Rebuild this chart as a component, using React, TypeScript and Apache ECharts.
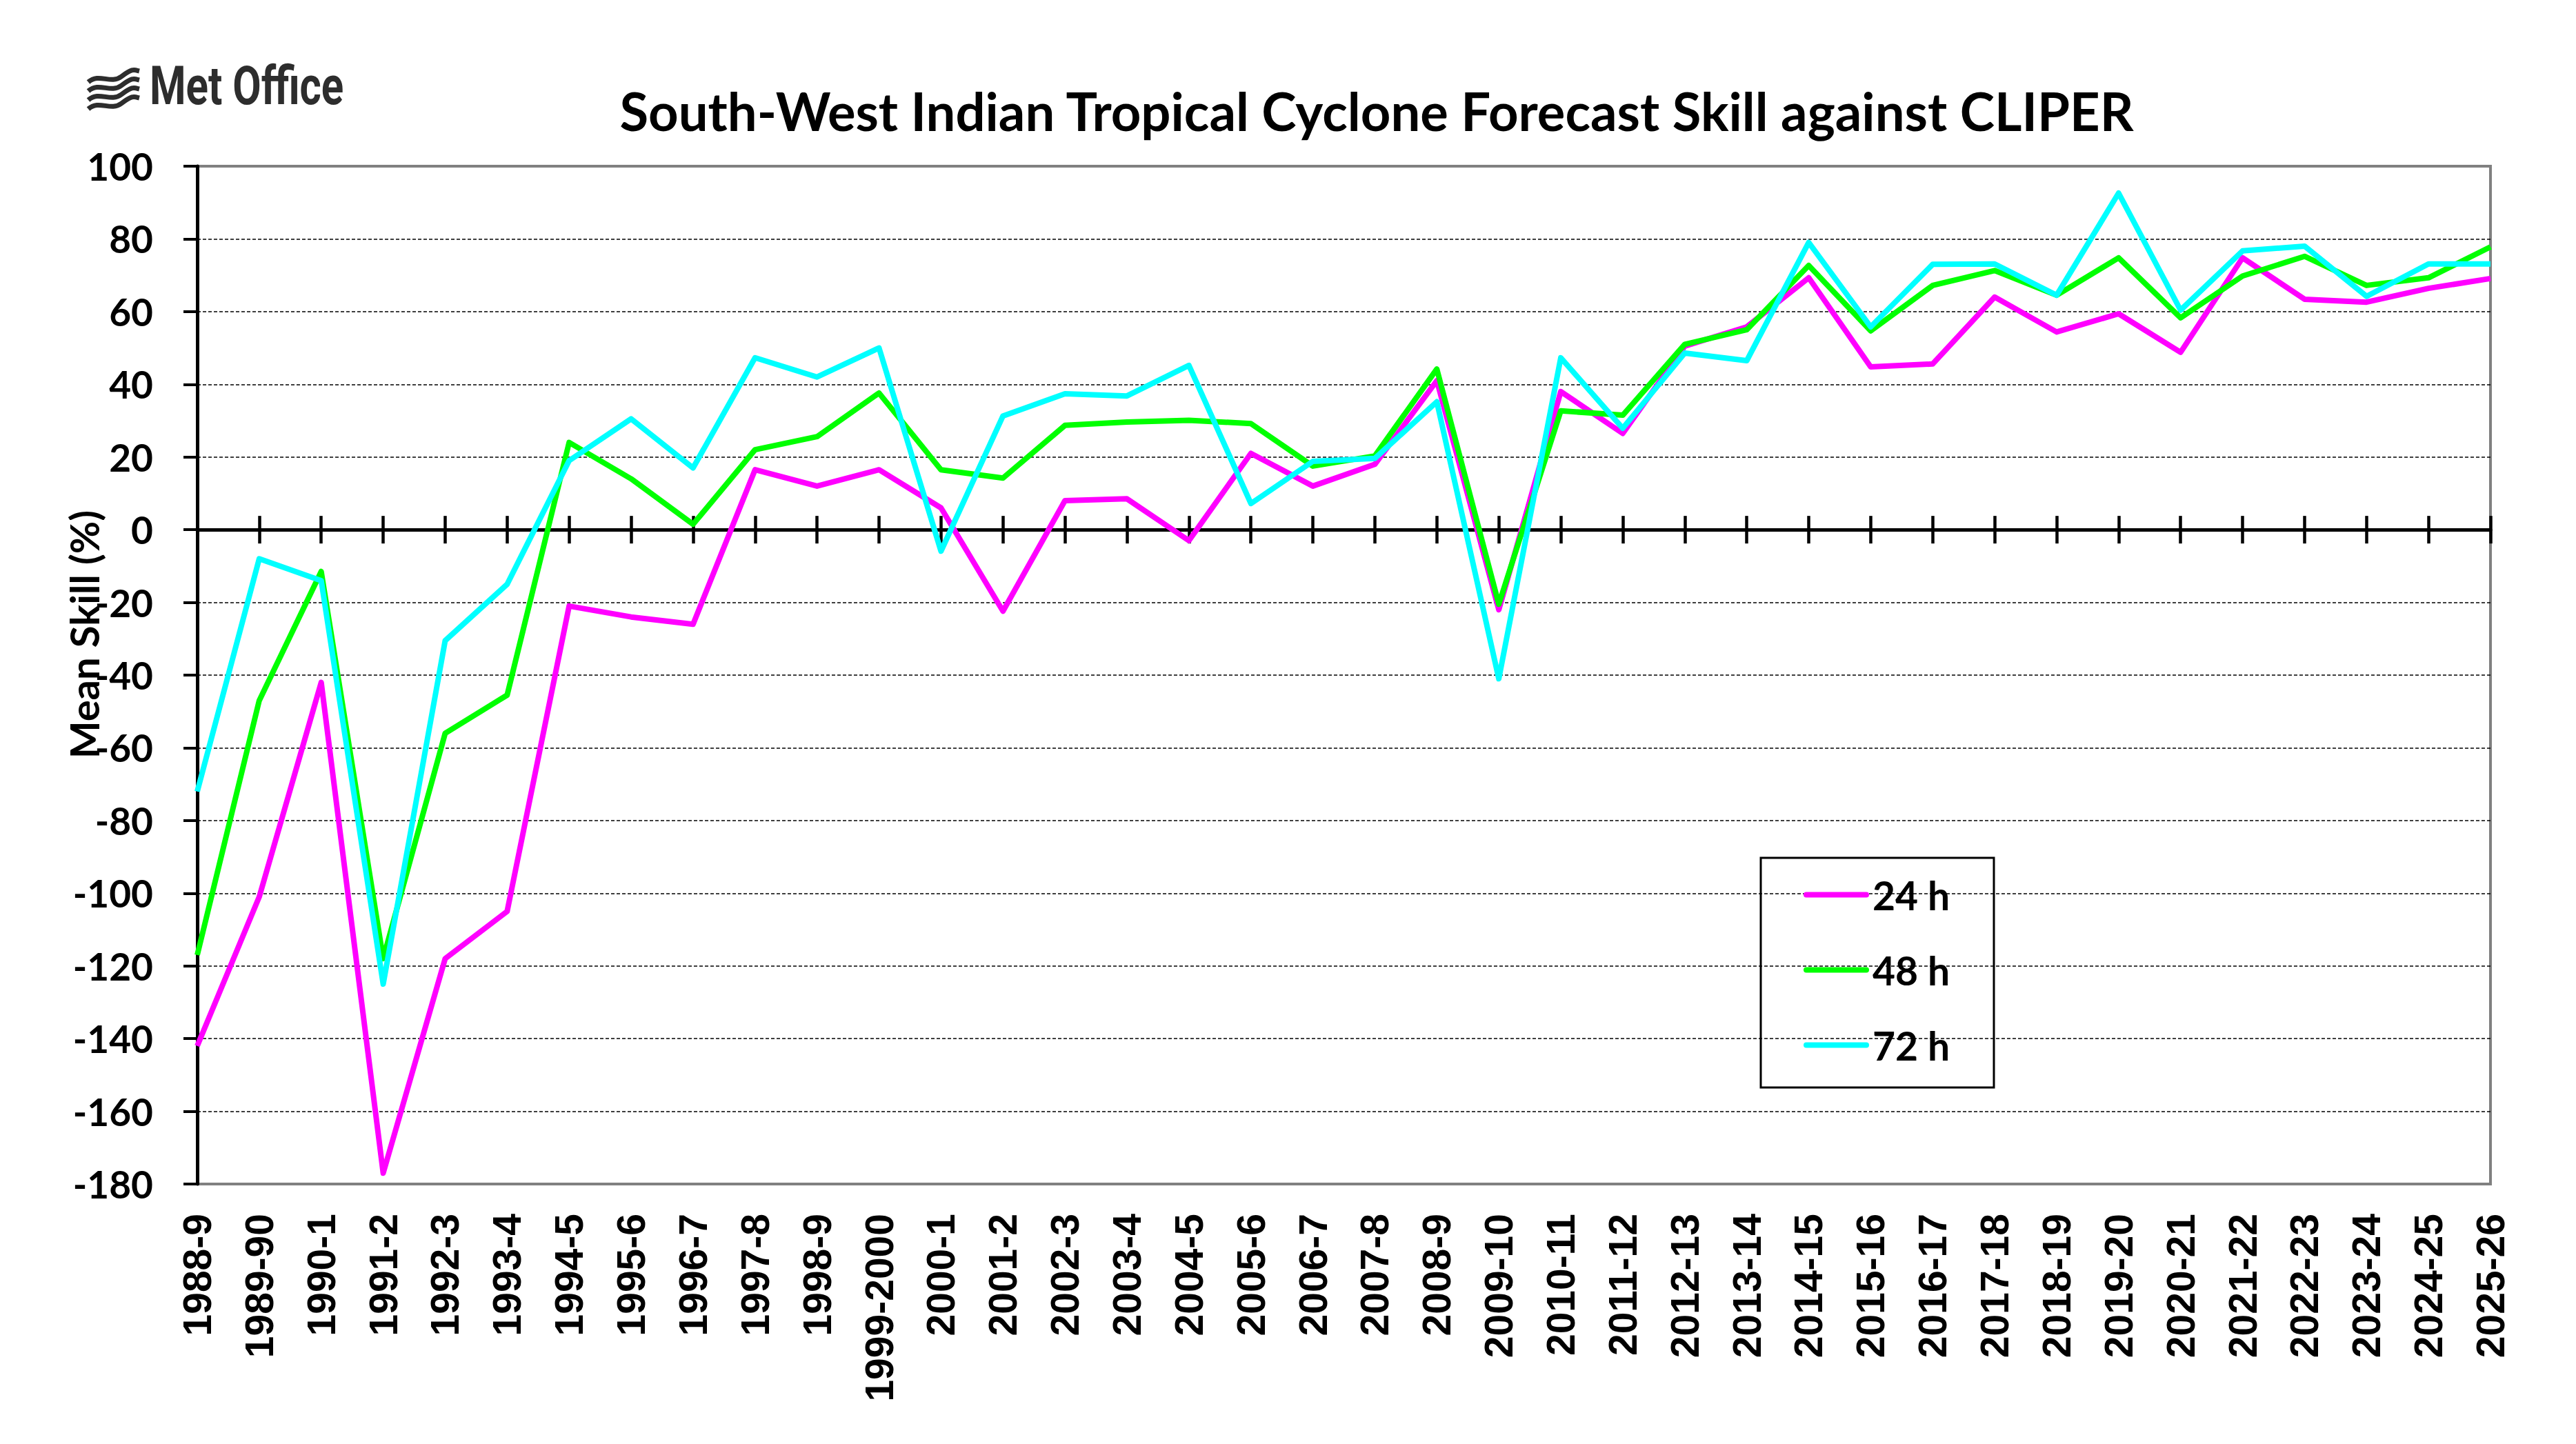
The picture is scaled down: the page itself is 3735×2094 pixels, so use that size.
import React, { useEffect, useRef } from "react";
import * as echarts from "echarts";

// Cyclone seasons along the x axis
const seasons = [
  "1988-9", "1989-90", "1990-1", "1991-2", "1992-3", "1993-4", "1994-5", "1995-6",
  "1996-7", "1997-8", "1998-9", "1999-2000", "2000-1", "2001-2", "2002-3", "2003-4",
  "2004-5", "2005-6", "2006-7", "2007-8", "2008-9", "2009-10", "2010-11", "2011-12",
  "2012-13", "2013-14", "2014-15", "2015-16", "2016-17", "2017-18", "2018-19", "2019-20",
  "2020-21", "2021-22", "2022-23", "2023-24", "2024-25", "2025-26",
];

// Mean skill (%) relative to CLIPER for each forecast lead time
const skill24h = [
  -142, -101, -42, -177, -118, -105, -21, -24, -26, 16.5, 12, 16.5, 6, -22.4, 8, 8.5,
  -3, 21, 12, 18, 41, -22, 38, 26.5, 50.5, 55.8, 69.3, 44.8, 45.6, 64, 54.4, 59.4,
  48.8, 74.8, 63.4, 62.6, 66.4, 69.1,
];
const skill48h = [
  -117, -47, -11.5, -118, -56, -45.5, 24, 14, 1.5, 22, 25.6, 37.6, 16.5, 14.2, 28.7, 29.6,
  30.1, 29.2, 17.5, 20.3, 44.2, -20.5, 32.7, 31.5, 51, 55, 72.7, 54.7, 67.2, 71.3, 64.5, 74.8,
  58.3, 69.8, 75.2, 67.2, 69.3, 77.8,
];
const skill72h = [
  -72, -8, -14, -125, -30.5, -15, 19, 30.5, 17, 47.3, 42, 50, -5.9, 31.3, 37.4, 36.8,
  45.2, 7.2, 18.8, 19.6, 35.2, -41, 47.3, 27.9, 48.6, 46.5, 79, 55.8, 73, 73.1, 64.5, 92.6,
  60.4, 76.7, 78, 64.2, 73.1, 73.1,
];

const seriesNames = ["24 h", "48 h", "72 h"];
const seriesColors = ["#FF00FF", "#00FF00", "#00FFFF"];

// Value axis range
const yMin = -180;
const yMax = 100;
const yStep = 20;

const titleText = "South-West Indian Tropical Cyclone Forecast Skill against CLIPER";
const yAxisTitle = "Mean Skill (%)";
const logoText = "Met Office";

const W = 3735;
const H = 2094;
const LABEL_FONT = "Lato, 'Open Sans', sans-serif";

// Wavy-band emblem next to the wordmark
const emblemPath = [0, 1, 2, 3]
  .map((k) => {
    const o = k * 13;
    return `M4 ${20 + o} C20 ${6 + o} 36 ${24 + o} 52 ${12 + o} S70 ${2 + o} 78 ${4 + o}`;
  })
  .join(" ");

// Rounded bar used as the legend key
const legendKey = "path://M4 0 H91 A4 4 0 0 1 91 8 H4 A4 4 0 0 1 4 0 Z";

let emblemRegistered = false;
function registerEmblem() {
  if (emblemRegistered) return;
  echarts.graphic.registerShape("logo", echarts.graphic.extendPath(emblemPath, {}));
  emblemRegistered = true;
}

export default function App() {
  const ref = useRef<HTMLDivElement>(null);

  useEffect(() => {
    if (!ref.current) return;
    registerEmblem();
    const chart = echarts.init(ref.current, null, { renderer: "svg", width: W, height: H });

    // Split-line colours from min to max; the border, zero line and top edge are drawn elsewhere
    const nLines = Math.round((yMax - yMin) / yStep) + 1;
    const splitColors: string[] = [];
    for (let i = 0; i < nLines; i++) {
      const v = yMin + i * yStep;
      splitColors.push(v === yMin || v === yMax || v === 0 ? "rgba(0,0,0,0)" : "#000000");
    }

    const zeroAxisBase = {
      type: "category",
      data: seasons,
      boundaryGap: false,
      position: "bottom",
      axisLine: { show: true, onZero: true, onZeroAxisIndex: 0, lineStyle: { color: "#000", width: 5 } },
      axisLabel: { show: false },
      splitLine: { show: false },
    };

    chart.setOption({
      animation: false,
      backgroundColor: "#ffffff",
      grid: {
        left: 286,
        top: 241,
        right: W - 3611,
        bottom: H - 1717,
        show: true,
        borderColor: "#808080",
        borderWidth: 4,
        backgroundColor: "rgba(0,0,0,0)",
      },
      legend: {
        data: seriesNames,
        orient: "vertical",
        left: 2615,
        top: 1269,
        padding: 0,
        icon: legendKey,
        itemWidth: 95,
        itemHeight: 60,
        itemGap: 52,
        textStyle: { fontFamily: LABEL_FONT, fontWeight: "bold", fontSize: 57, color: "#000" },
      },
      xAxis: [
        {
          type: "category",
          data: seasons,
          boundaryGap: false,
          position: "bottom",
          axisLine: { show: false, onZero: false },
          axisTick: { show: false },
          axisLabel: {
            interval: 0,
            rotate: 90,
            margin: 43,
            fontFamily: "'Liberation Sans', Arial, sans-serif",
            fontWeight: "bold",
            fontSize: 57,
            color: "#000",
          },
          splitLine: { show: false },
        },
        {
          ...zeroAxisBase,
          axisTick: { show: true, interval: 0, inside: true, length: 20, lineStyle: { color: "#000", width: 4.5 } },
        },
        {
          ...zeroAxisBase,
          axisTick: { show: true, interval: 0, inside: false, length: 20, lineStyle: { color: "#000", width: 4.5 } },
        },
      ],
      yAxis: {
        type: "value",
        min: yMin,
        max: yMax,
        interval: yStep,
        axisLine: { show: true, onZero: false, lineStyle: { color: "#000", width: 5 } },
        axisTick: { show: true, length: 20, lineStyle: { color: "#000", width: 4 } },
        axisLabel: {
          margin: 64,
          fontFamily: LABEL_FONT,
          fontWeight: "bold",
          fontSize: 55,
          color: "#000",
        },
        splitLine: {
          show: true,
          lineStyle: { color: splitColors, width: 1.5, type: [5, 3] },
        },
      },
      series: [skill24h, skill48h, skill72h].map((values, i) => ({
        name: seriesNames[i],
        type: "line",
        xAxisIndex: 0,
        data: values,
        symbol: "none",
        showSymbol: false,
        lineStyle: { color: seriesColors[i], width: 8, join: "round" },
        itemStyle: { color: seriesColors[i] },
        z: 3 + i,
      })),
      graphic: [
        {
          type: "text",
          x: 1996,
          y: 160,
          style: {
            text: titleText,
            fill: "#000",
            font: `bold 76px ${LABEL_FONT}`,
            align: "center",
            verticalAlign: "middle",
          },
        },
        {
          type: "text",
          x: 121,
          y: 920,
          rotation: Math.PI / 2,
          style: {
            text: yAxisTitle,
            fill: "#000",
            font: `bold 58px ${LABEL_FONT}`,
            align: "center",
            verticalAlign: "middle",
          },
        },
        {
          type: "rect",
          shape: { x: 2553, y: 1244, width: 338, height: 333 },
          style: { fill: "rgba(0,0,0,0)", stroke: "#000", lineWidth: 3 },
          z: 10,
        },
        {
          type: "logo",
          x: 124,
          y: 99,
          style: { fill: "none", stroke: "#2d2d2d", lineWidth: 7 },
        },
        {
          type: "text",
          x: 217,
          y: 163,
          scaleX: 0.77,
          style: {
            text: logoText,
            fill: "#2d2d2d",
            font: "bold 78px Roboto, sans-serif",
            align: "left",
            verticalAlign: "bottom",
          },
        },
      ],
    });

    return () => chart.dispose();
  }, []);

  return (
    <div
      ref={ref}
      style={{ position: "absolute", left: 0, top: 0, width: W, height: H, background: "#fff" }}
    />
  );
}
